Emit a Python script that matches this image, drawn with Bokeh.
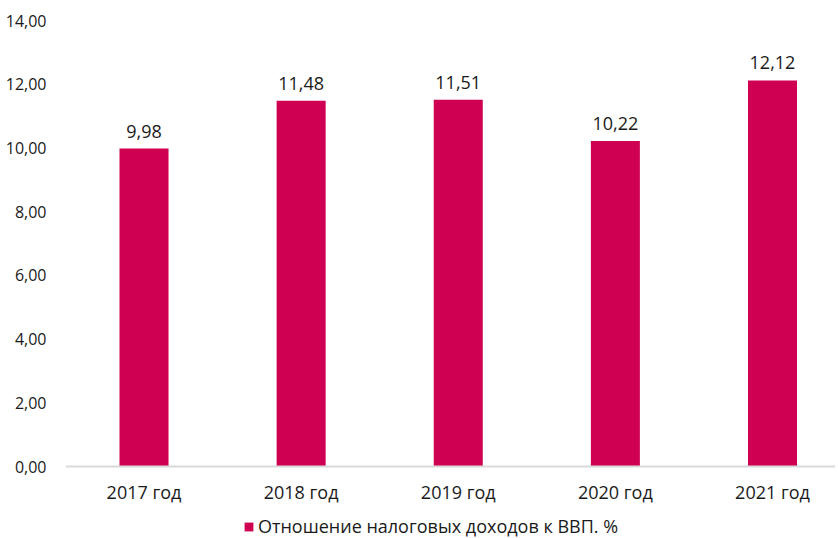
from bokeh.plotting import figure
from bokeh.models import ColumnDataSource, LabelSet, Legend, LegendItem, FixedTicker, Range1d
from bokeh.core.properties import value
from bokeh.embed import file_html
from bokeh.resources import INLINE

categories = ["2017 год", "2018 год", "2019 год", "2020 год", "2021 год"]
values = [9.98, 11.48, 11.51, 10.22, 12.12]
value_labels = ["9,98", "11,48", "11,51", "10,22", "12,12"]
y_ticks = [0, 2, 4, 6, 8, 10, 12, 14]
y_tick_labels = ["0,00", "2,00", "4,00", "6,00", "8,00", "10,00", "12,00", "14,00"]
series_name = "Отношение налоговых доходов к ВВП. %"

FONT = "Open Sans"
BAR = "#CF0052"

x = list(range(len(categories)))
src = ColumnDataSource(dict(x=x, top=values, lab=value_labels))

# frame extends to the bottom of the page; y=0 sits 72px above the frame bottom
p = figure(frame_width=770, frame_height=518, output_backend="svg", toolbar_location=None,
           x_range=Range1d(-0.4997, 4.401), y_range=Range1d(-2.26, 14),
           min_border_left=65, min_border_right=0, min_border_top=20, min_border_bottom=0)
p.outline_line_color = None
p.grid.visible = False
p.background_fill_color = "white"
p.border_fill_color = "white"

r = p.vbar(x="x", top="top", width=0.312, source=src, fill_color=BAR, line_color=None)

labels = LabelSet(x="x", y="top", text="lab", source=src, text_align="center",
                  text_baseline="bottom", y_offset=11, text_font=value(FONT),
                  text_font_size="18px", text_color="#1a1a1a")
p.add_layout(labels)

# y axis
p.yaxis.ticker = FixedTicker(ticks=y_ticks)
p.yaxis.major_label_overrides = {t: l for t, l in zip(y_ticks, y_tick_labels)}
p.yaxis.axis_line_color = None
p.yaxis.major_tick_line_color = None
p.yaxis.minor_tick_line_color = None
p.yaxis.major_label_standoff = 13
p.yaxis.major_label_text_font = FONT
p.yaxis.major_label_text_font_size = "16px"
p.yaxis.major_label_text_color = "#1a1a1a"

# x axis drawn at y = 0
p.xaxis.fixed_location = 0
p.xaxis.ticker = FixedTicker(ticks=x)
p.xaxis.major_label_overrides = {i: c for i, c in zip(x, categories)}
p.xaxis.axis_line_color = "#d9d9d9"
p.xaxis.axis_line_width = 2
p.xaxis.major_tick_line_color = None
p.xaxis.minor_tick_line_color = None
p.xaxis.major_label_standoff = 7
p.xaxis.major_label_text_font = FONT
p.xaxis.major_label_text_font_size = "18px"
p.xaxis.major_label_text_color = "#1a1a1a"

legend = Legend(items=[LegendItem(label=series_name, renderers=[r])],
                orientation="horizontal", location=(178, 0),
                label_text_font=FONT, label_text_font_size="18px",
                label_text_color="#1a1a1a", glyph_width=11, glyph_height=11,
                label_standoff=4, padding=0, margin=0, border_line_color=None,
                background_fill_alpha=0, label_height=16)
p.add_layout(legend, "center")

open("out.html", "w").write(file_html(p, INLINE))
